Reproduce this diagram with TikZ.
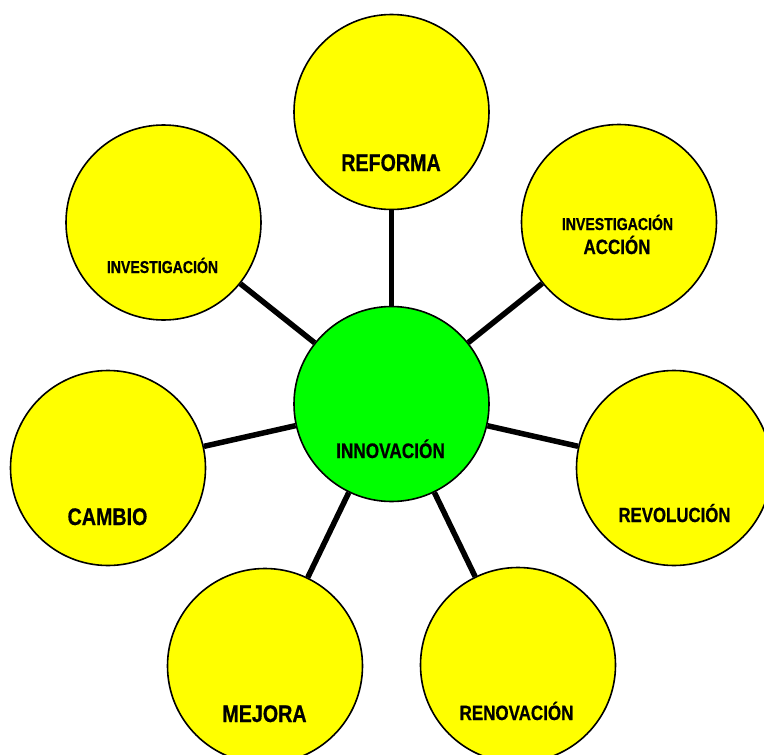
\documentclass[tikz,border=0pt]{standalone}
\usepackage{fontspec}
\setmainfont{Liberation Sans}[FakeStretch=0.82, BoldFeatures={FakeBold=0.6}]
\definecolor{bub}{HTML}{FFFF00}
\definecolor{mid}{HTML}{00FF00}
\tikzset{
  bubble/.style={circle, draw=black, line width=1.6pt, fill=bub, minimum size=195pt, inner sep=0pt},
  hub/.style={bubble, fill=mid},
  link/.style={line width=5.5pt, black},
  lbl/.style={anchor=base, inner sep=0pt, font=\bfseries}
}
\newcommand{\fs}[1]{\fontsize{#1}{#1}\selectfont}
\begin{document}
\begin{tikzpicture}[x=1pt,y=-1pt]
\useasboundingbox (0,0) rectangle (764,755);
\node[hub] (inn) at (391.5,404) {};
\node[bubble] (ref) at (391.5,112) {};
\node[bubble] (iac) at (619,222) {};
\node[bubble] (inv) at (163.5,222.5) {};
\node[bubble] (cam) at (108,468) {};
\node[bubble] (rev) at (674,468) {};
\node[bubble] (mej) at (265,666) {};
\node[bubble] (ren) at (518,665) {};
\foreach \t in {ref,iac,inv,cam,rev,mej,ren}
  \draw[link] (inn) -- (\t);
\node[lbl, font=\bfseries\fs{21}] (innt) at (390.5,458) {INNOVACIÓN};
\node[lbl, font=\bfseries\fs{24}] (reft) at (391,171) {REFORMA};
\node[lbl, font=\bfseries\fs{17.2}] (iact1) at (617.5,230) {INVESTIGACIÓN};
\node[lbl, font=\bfseries\fs{20.7}] (iact2) at (617,254) {ACCIÓN};
\node[lbl, font=\bfseries\fs{17.2}] (invt) at (162.5,273) {INVESTIGACIÓN};
\node[lbl, font=\bfseries\fs{24}] (camt) at (107.5,525) {CAMBIO};
\node[lbl, font=\bfseries\fs{20.5}] (revt) at (674.5,522) {REVOLUCIÓN};
\node[lbl, font=\bfseries\fs{24}] (mejt) at (264.5,722) {MEJORA};
\node[lbl, font=\bfseries\fs{20.7}] (rent) at (516.5,720) {RENOVACIÓN};
\end{tikzpicture}
\end{document}
